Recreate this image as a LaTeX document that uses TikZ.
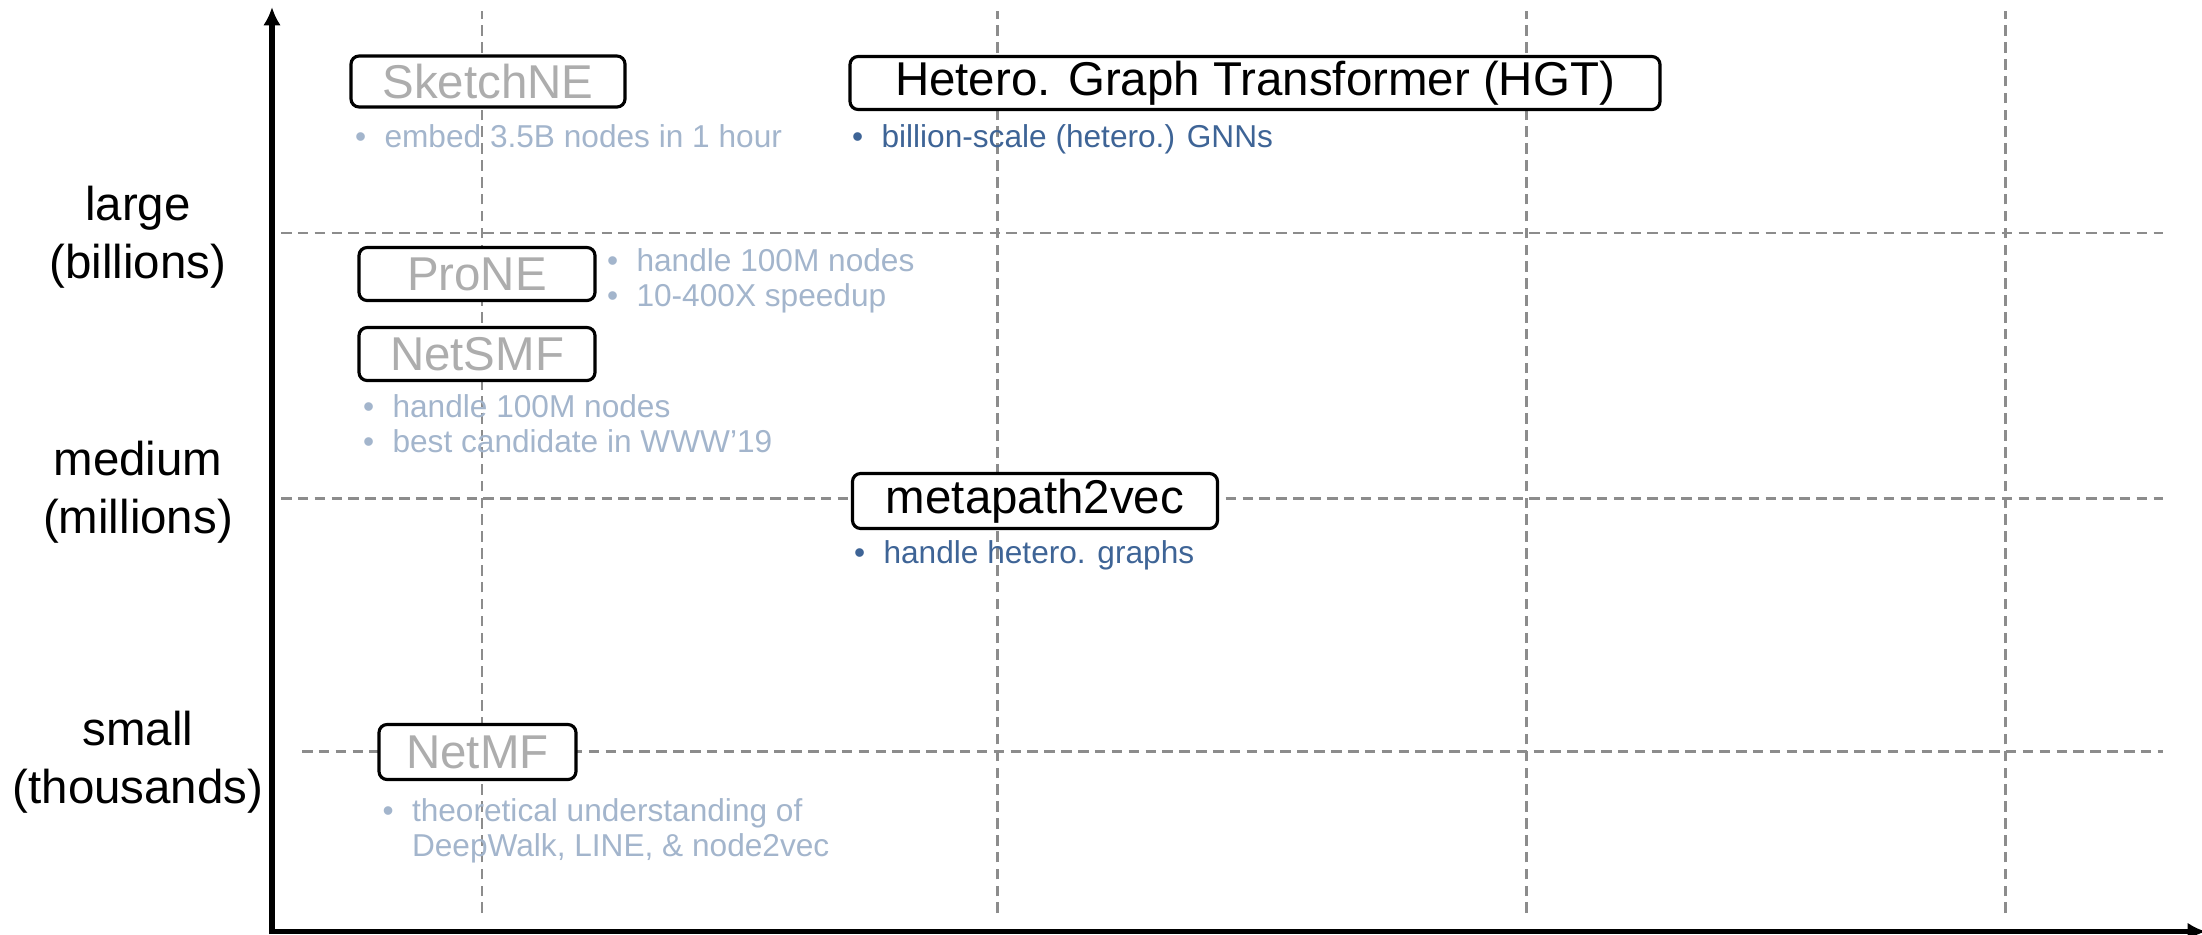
\documentclass[tikz,border=0pt]{standalone}
\usepackage{fontspec}
\setmainfont{Liberation Sans}
\usetikzlibrary{arrows.meta, positioning}
\definecolor{oldgray}{HTML}{ADADAD}
\definecolor{oldblue}{HTML}{A3B5CC}
\definecolor{newblue}{HTML}{3E6496}
\definecolor{gridgray}{HTML}{8C8C8C}
\newcommand{\itemlist}[1]{\begin{tabular}[t]{@{}l@{\hspace{5.2pt}}l@{}}#1\end{tabular}}
\tikzset{
	block/.style={draw, fill=white, rounded corners=2.3pt, line width=0.9pt, inner sep=0pt, font=\fontsize{13.5}{16}\selectfont},
	old/.style={text=oldgray},
	gridline/.style={draw=gridgray, line width=0.85pt, dash pattern=on 3pt off 1.8pt},
	note/.style={anchor=base west, inner sep=0pt, font=\fontsize{9}{10}\selectfont},
	scalelabel/.style={align=center, font=\fontsize{13.5}{16.5}\selectfont},
	axis/.style={line width=1.6pt, -{Latex[length=5.2pt, width=5pt]}}
}

\begin{document}
\begin{tikzpicture}
		\useasboundingbox (0,0) rectangle (22.02,9.34);
		
		% grid
		\foreach \x in {4.82, 9.97, 15.265, 20.05}
			\draw[gridline] (\x,0.21) -- (\x,9.23);
		\draw[gridline] (2.81,7.01) -- (21.63,7.01);
		\draw[gridline] (2.81,4.355) -- (21.63,4.355);
		\draw[gridline] (3.02,1.83) -- (21.63,1.83);
		
		% axes
		\coordinate (ybottom) at (2.72,0);
		\coordinate (origin) at (2.72,0.025);
		\coordinate (ytop) at (2.72,9.27);
		\coordinate (xend) at (22.06,0.025);
		\draw[axis] (ybottom) -- (ytop);
		\draw[axis] (origin) -- (xend);
		
		\node[scalelabel] (large) at (1.38,6.97) {large\\(billions)};
		\node[scalelabel] (medium) at (1.38,4.42) {medium\\(millions)};
		\node[scalelabel] (small) at (1.38,1.72) {small\\(thousands)};
		
		% methods
		\node[block, old, minimum width=2.74cm, minimum height=0.51cm] (sketchne) at (4.88,8.525) {SketchNE};
		\node[note, text=oldblue] (sketchne-note) at (3.545,7.87) {\itemlist{\textbullet & embed 3.5B nodes in 1 hour}};
		
		\node[block, minimum width=8.10cm, minimum height=0.53cm] (hgt) at (12.55,8.51) {Hetero. Graph Transformer (HGT)};
		\node[note, text=newblue] (hgt-note) at (8.515,7.87) {\itemlist{\textbullet & billion-scale (hetero.) GNNs}};
		
		\node[block, old, minimum width=2.36cm, minimum height=0.53cm] (prone) at (4.77,6.60) {ProNE};
		\node[note, text=oldblue] (prone-note) at (6.065,6.63) {\itemlist{\textbullet & handle 100M nodes\\ \textbullet & 10-400X speedup}};
		
		\node[block, old, minimum width=2.36cm, minimum height=0.53cm] (netsmf) at (4.77,5.80) {NetSMF};
		\node[note, text=oldblue] (netsmf-note) at (3.625,5.17) {\itemlist{\textbullet & handle 100M nodes\\ \textbullet & best candidate in WWW'19}};
		
		\node[block, minimum width=3.65cm, minimum height=0.55cm] (mp2v) at (10.35,4.33) {metapath2vec};
		\node[note, text=newblue] (mp2v-note) at (8.535,3.71) {\itemlist{\textbullet & handle hetero. graphs}};
		
		\node[block, old, minimum width=1.97cm, minimum height=0.55cm] (netmf) at (4.775,1.82) {NetMF};
		\node[note, text=oldblue] (netmf-note) at (3.82,1.13) {\itemlist{\textbullet & theoretical understanding of\\ & DeepWalk, LINE, \& node2vec}};
	\end{tikzpicture}
\end{document}
